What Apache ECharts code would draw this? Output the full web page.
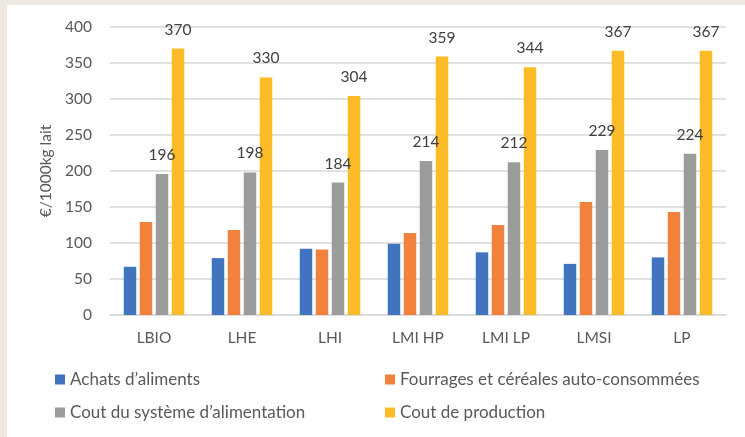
<!DOCTYPE html>
<html>
<head>
<meta charset="utf-8">
<script src="https://cdn.jsdelivr.net/npm/echarts@6/dist/echarts.min.js"></script>
<style>
html,body{margin:0;padding:0;background:#EEEAE3;}
#wrap{position:absolute;left:7px;top:5px;width:738px;height:432px;background:#fff;}
#c{width:738px;height:432px;}
</style>
</head>
<body>
<div id="wrap"><div id="c"></div></div>
<script>
var categories = ['LBIO','LHE','LHI','LMI HP','LMI LP','LMSI','LP'];
var seriesNames = ['Achats d\u2019aliments','Fourrages et c\u00e9r\u00e9ales auto-consomm\u00e9es','Cout du syst\u00e8me d\u2019alimentation','Cout de production'];
var achats = [67, 79, 92, 99, 87, 71, 80];
var fourrages = [129, 118, 91, 114, 125, 157, 143];
var coutSysteme = [196, 198, 184, 214, 212, 229, 224];
var coutProduction = [370, 330, 304, 359, 344, 367, 367];
var yTicks = [0, 50, 100, 150, 200, 250, 300, 350, 400];

var colors = ['#4174BE','#F0823E','#9B9D9D','#FBBC28'];
var font = 'Lato, "Open Sans", sans-serif';
var txt = '#595959';

function bar(name, data, color, withLabel){
  return {
    name: name, type: 'bar', data: data,
    barWidth: 12.5, barGap: '28%',
    itemStyle: {color: color},
    label: {show: withLabel, position: 'top', distance: 11, color: '#404040', fontFamily: font, fontSize: 15.5},
    silent: true
  };
}

var chart = echarts.init(document.getElementById('c'));
chart.setOption({
  animation: false,
  grid: {left: 103, right: 19, top: 22, bottom: 122},
  xAxis: {
    type: 'category', data: categories,
    axisLine: {lineStyle: {color: '#D9D9D9', width: 1.5}},
    axisTick: {show: false},
    axisLabel: {color: txt, fontFamily: font, fontSize: 15.5, margin: 15}
  },
  yAxis: {
    type: 'value', min: yTicks[0], max: yTicks[yTicks.length-1], interval: 50,
    name: '\u20ac/1000kg lait', nameLocation: 'middle', nameGap: 56, nameRotate: 90,
    nameTextStyle: {color: txt, fontFamily: font, fontSize: 15.5},
    axisLine: {show: false}, axisTick: {show: false},
    axisLabel: {color: txt, fontFamily: font, fontSize: 15.5, margin: 18},
    splitLine: {lineStyle: {color: '#D9D9D9', width: 1.5}}
  },
  legend: [
    {orient: 'vertical', left: 43, top: 361, itemWidth: 10, itemHeight: 10, itemGap: 16,
     data: [seriesNames[0], seriesNames[2]], icon: 'rect',
     textStyle: {color: txt, fontFamily: font, fontSize: 17}},
    {orient: 'vertical', left: 373, top: 361, itemWidth: 10, itemHeight: 10, itemGap: 16,
     data: [seriesNames[1], seriesNames[3]], icon: 'rect',
     textStyle: {color: txt, fontFamily: font, fontSize: 17}}
  ],
  series: [
    bar(seriesNames[0], achats, colors[0], false),
    bar(seriesNames[1], fourrages, colors[1], false),
    bar(seriesNames[2], coutSysteme, colors[2], true),
    bar(seriesNames[3], coutProduction, colors[3], true)
  ]
});
</script>
</body>
</html>
